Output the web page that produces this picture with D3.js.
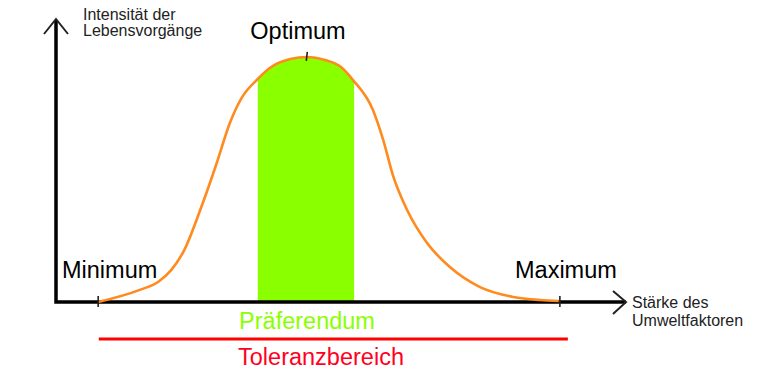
<!DOCTYPE html>
<html>
<head>
<meta charset="utf-8">
<script src="https://cdn.jsdelivr.net/npm/d3@7"></script>
<style>
  html, body { margin: 0; padding: 0; background: #fff; }
  svg { display: block; font-family: "Liberation Sans", Arial, sans-serif; }
</style>
</head>
<body>
<svg id="chart" width="779" height="384"></svg>
<script>
// Curve: strength of environmental factor (0..100) vs intensity (0..100)
const curveX = [7.4, 14.7, 17.9, 20.2, 22.5, 25.3, 28.2, 30.5, 32.6, 35.3, 37.5, 41.1, 44.0, 47.2, 50.0, 52.1, 55.6, 57.4, 59.1, 61.6, 65.1, 69.1, 74.4, 80.2, 84.9, 88.2];
const curveY = [0, 4.3, 7.1, 11.3, 18.4, 32.6, 49.3, 63.5, 72.5, 78.9, 83.0, 86.2, 86.9, 85.8, 83.3, 78.7, 68.1, 57.5, 45.0, 32.6, 20.9, 12.4, 5.3, 1.8, 0.7, 0.35];
const minimumX = 7.4, maximumX = 88.4, optimumX = 44.0, optimumY = 86.9;
const praeferendum = [35.4, 52.3];
const toleranz = [7.5, 89.8];
const labels = {
  yAxis: ["Intensität der", "Lebensvorgänge"],
  xAxis: ["Stärke des", "Umweltfaktoren"],
  min: "Minimum", max: "Maximum", opt: "Optimum",
  pref: "Präferendum", tol: "Toleranzbereich"
};

const svg = d3.select("#chart");
const x = d3.scaleLinear().domain([0, 100]).range([56, 626]);
const y = d3.scaleLinear().domain([0, 100]).range([302, 20]);

const pts = curveX.map((v, i) => [v, curveY[i]]);
const curveType = d3.curveMonotoneX;

// Präferendum area (clipped area under curve)
svg.append("clipPath").attr("id", "prefClip")
  .append("rect")
  .attr("x", x(praeferendum[0])).attr("width", x(praeferendum[1]) - x(praeferendum[0]))
  .attr("y", 0).attr("height", y(0));
svg.append("path")
  .datum(pts)
  .attr("clip-path", "url(#prefClip)")
  .attr("fill", "#8aff00")
  .attr("d", d3.area().x(d => x(d[0])).y0(y(0)).y1(d => y(d[1])).curve(curveType));

// axes
const axisColor = "#000";
svg.append("path")
  .attr("d", `M${x(0)},${y(100)} L${x(0)},${y(0)} L${x(100)},${y(0)}`)
  .attr("fill", "none").attr("stroke", axisColor).attr("stroke-width", 3.5);
// arrowheads
svg.append("path")
  .attr("d", `M${x(0) - 12},${y(100) + 14} L${x(0)},${y(100) - 1} L${x(0) + 12},${y(100) + 14}`)
  .attr("fill", "none").attr("stroke", "#222").attr("stroke-width", 2);
svg.append("path")
  .attr("d", `M${x(100) - 13},${y(0) - 11} L${x(100)},${y(0)} L${x(100) - 13},${y(0) + 12}`)
  .attr("fill", "none").attr("stroke", "#222").attr("stroke-width", 2);

// curve
svg.append("path")
  .datum(pts)
  .attr("fill", "none")
  .attr("stroke", "#ff8a1e")
  .attr("stroke-width", 2.6)
  .attr("d", d3.line().x(d => x(d[0])).y(d => y(d[1])).curve(curveType));

// ticks
[minimumX, maximumX].forEach(v => {
  svg.append("line").attr("x1", x(v)).attr("x2", x(v))
    .attr("y1", y(0) - 6).attr("y2", y(0) + 5)
    .attr("stroke", "#222").attr("stroke-width", 1.6);
});
svg.append("line").attr("x1", x(optimumX) + 0.5).attr("x2", x(optimumX) - 0.5)
  .attr("y1", y(optimumY) - 5).attr("y2", y(optimumY) + 4)
  .attr("stroke", "#222").attr("stroke-width", 1.6);

// Toleranz line
svg.append("line")
  .attr("x1", x(toleranz[0])).attr("x2", x(toleranz[1]))
  .attr("y1", 339).attr("y2", 339)
  .attr("stroke", "#ff0000").attr("stroke-width", 3);

// texts
const small = 16, big = 23.5;
labels.yAxis.forEach((t, i) => svg.append("text").attr("x", 83).attr("y", 20 + i * 16)
  .attr("font-size", small).attr("fill", "#222").text(t));
labels.xAxis.forEach((t, i) => svg.append("text").attr("x", 632).attr("y", 308 + i * 18)
  .attr("font-size", small).attr("fill", "#222").text(t));
svg.append("text").attr("x", 62).attr("y", 278).attr("font-size", big).attr("fill", "#000").text(labels.min);
svg.append("text").attr("x", 515).attr("y", 278).attr("font-size", big).attr("fill", "#000").text(labels.max);
svg.append("text").attr("x", 298).attr("y", 39).attr("text-anchor", "middle").attr("font-size", big).attr("fill", "#000").text(labels.opt);
svg.append("text").attr("x", 307).attr("y", 329).attr("text-anchor", "middle").attr("font-size", big).attr("fill", "#8aff00").text(labels.pref);
svg.append("text").attr("x", 321).attr("y", 365).attr("text-anchor", "middle").attr("font-size", big).attr("fill", "#ff0022").text(labels.tol);
</script>
</body>
</html>
